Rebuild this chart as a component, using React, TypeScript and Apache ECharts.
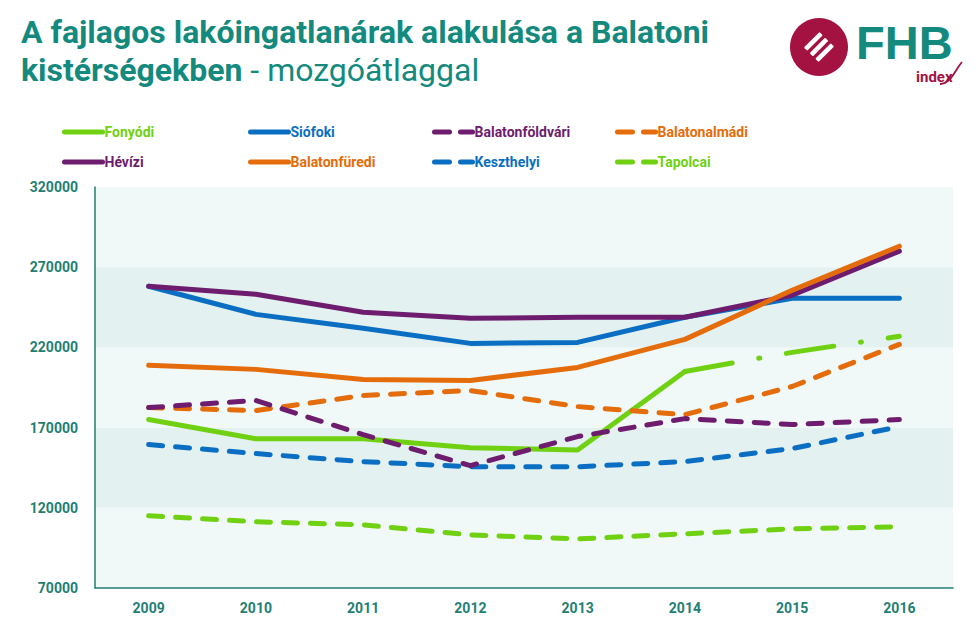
import React, { useEffect, useRef } from "react";
import * as echarts from "echarts";

const years = ["2009", "2010", "2011", "2012", "2013", "2014", "2015", "2016"];
const yTicks = { min: 70000, max: 320000, step: 50000 };

const fonyodi = [175000, 163000, 163000, 157500, 156000, 205000, null, null];
const fonyodiBecsles = [null, null, null, null, null, 205000, 216900, 226900];
const siofoki = [258100, 240600, 231900, 222500, 223100, 238800, 250600, 250600];
const balatonfoldvari = [182500, 186900, 165600, 146300, 164400, 175600, 171900, 175000];
const balatonalmadi = [182500, 180600, 190000, 193100, 183100, 178100, 195600, 221900];
const hevizi = [258100, 253100, 241900, 238100, 238800, 238800, 252500, 280000];
const balatonfuredi = [208800, 206300, 200000, 199400, 207500, 225000, 255600, 283100];
const keszthelyi = [159400, 153800, 148800, 145600, 145600, 148800, 156900, 170600];
const tapolcai = [115000, 111300, 109400, 103100, 100600, 103800, 106900, 108100];

const TEAL = "#138a7d";
const AXIS_TEAL = "#1f7f74";
const GREEN = "#6fd112";
const BLUE = "#0a6fc2";
const PURPLE = "#6e1c6e";
const ORANGE = "#e46c0a";
const RED = "#a31241";
const FONT = "Roboto, 'Liberation Sans', sans-serif";

const DASH = [14, 13];

type Item = { name: string; data: (number | null)[]; color: string; dashed: boolean };

const items: Item[] = [
  { name: "Fonyódi", data: fonyodi, color: GREEN, dashed: false },
  { name: "Siófoki", data: siofoki, color: BLUE, dashed: false },
  { name: "Balatonföldvári", data: balatonfoldvari, color: PURPLE, dashed: true },
  { name: "Balatonalmádi", data: balatonalmadi, color: ORANGE, dashed: true },
  { name: "Hévízi", data: hevizi, color: PURPLE, dashed: false },
  { name: "Balatonfüredi", data: balatonfuredi, color: ORANGE, dashed: false },
  { name: "Keszthelyi", data: keszthelyi, color: BLUE, dashed: true },
  { name: "Tapolcai", data: tapolcai, color: GREEN, dashed: true },
];

const drawOrder = [
  "Fonyódi",
  "Siófoki",
  "Hévízi",
  "Balatonfüredi",
  "Tapolcai",
  "Keszthelyi",
  "Balatonalmádi",
  "Balatonföldvári",
];

const legendCols = [57, 243, 427, 610];
const legendRows = [120, 150];

export default function App() {
  const ref = useRef<HTMLDivElement>(null);

  useEffect(() => {
    if (!ref.current) return;
    const chart = echarts.init(ref.current, null, { renderer: "svg" });

    const mkSeries = (it: Item) => ({
      type: "line",
      name: it.name,
      data: it.data,
      symbol: "none",
      smooth: false,
      lineStyle: {
        color: it.color,
        width: 5,
        type: it.dashed ? DASH : "solid",
        cap: "round",
        join: "round",
      },
      itemStyle: { color: it.color },
    });

    const series: any[] = [];
    drawOrder.forEach((n) => {
      const it = items.find((i) => i.name === n)!;
      series.push(mkSeries(it));
      if (n === "Fonyódi") {
        series.push({
          type: "line",
          name: "Fonyódi (becslés)",
          data: fonyodiBecsles,
          symbol: "none",
          lineStyle: { color: GREEN, width: 5, type: [48, 27, 1, 27], cap: "round" },
          itemStyle: { color: GREEN },
        });
      }
    });

    const legends = items.map((it, i) => ({
      data: [{ name: it.name, textStyle: { color: it.color } }],
      left: legendCols[i % 4],
      top: legendRows[Math.floor(i / 4)],
      itemWidth: 38,
      itemHeight: 14,
      itemGap: 2,
      selectedMode: false,
      itemStyle: { opacity: 0 },
      lineStyle: {
        color: it.color,
        width: 5,
        cap: "round",
        type: it.dashed ? [15, 11] : "solid",
      },
      textStyle: { fontFamily: FONT, fontWeight: "bold", fontSize: 14, padding: [0, 0, 0, -3] },
    }));

    chart.setOption({
      animation: false,
      backgroundColor: "#ffffff",
      title: {
        left: 16,
        top: 8,
        text: "{b|A fajlagos lakóingatlanárak alakulása a Balatoni}\n{b|kistérségekben}{r| - mozgóátlaggal}",
        textStyle: {
          rich: {
            b: { fontFamily: FONT, fontWeight: "bold", fontSize: 32, color: TEAL, lineHeight: 38 },
            r: { fontFamily: FONT, fontWeight: "normal", fontSize: 32, color: TEAL, lineHeight: 38 },
          },
        },
      },
      legend: legends,
      grid: { left: 95, right: 26, top: 187, bottom: 52, containLabel: false },
      xAxis: {
        type: "category",
        data: years,
        boundaryGap: true,
        axisLine: { lineStyle: { color: AXIS_TEAL, width: 1.5 } },
        axisTick: { show: false },
        axisLabel: {
          color: AXIS_TEAL,
          fontFamily: FONT,
          fontWeight: "bold",
          fontSize: 14,
          margin: 13,
        },
        splitLine: { show: false },
      },
      yAxis: {
        type: "value",
        min: yTicks.min,
        max: yTicks.max,
        interval: yTicks.step,
        axisLine: { show: true, lineStyle: { color: AXIS_TEAL, width: 1.5 } },
        axisTick: { show: false },
        axisLabel: {
          color: AXIS_TEAL,
          fontFamily: FONT,
          fontWeight: "bold",
          fontSize: 14,
          margin: 17,
          formatter: (v: number) => String(v),
        },
        splitLine: { show: false },
        splitArea: { show: true, areaStyle: { color: ["#f0f8f8", "#e3f1f1"] } },
      },
      graphic: [
        { type: "circle", shape: { cx: 819, cy: 47, r: 29 }, style: { fill: RED } },
        {
          type: "group",
          x: 819,
          y: 47,
          rotation: Math.PI / 4,
          children: [-8, 0, 8].map((dy) => ({
            type: "rect",
            shape: { x: -11, y: dy - 2.3, width: 22, height: 4.6, r: 1 },
            style: { fill: "#ffffff" },
          })),
        },
        {
          type: "text",
          x: 856,
          y: 19,
          style: {
            text: "FHB",
            fill: TEAL,
            font: "bold 47px 'Liberation Sans', Arial, sans-serif",
          },
        },
        {
          type: "text",
          x: 916,
          y: 69,
          style: {
            text: "index",
            fill: RED,
            font: "bold 15px " + FONT,
          },
        },
        {
          type: "bezierCurve",
          shape: { x1: 940, y1: 84, x2: 962, y2: 62, cpx1: 951, cpy1: 84, cpx2: 955, cpy2: 70 },
          style: { stroke: RED, lineWidth: 1.8, fill: "none" },
        },
      ],
      series,
    });

    return () => chart.dispose();
  }, []);

  return (
    <div
      ref={ref}
      style={{ position: "fixed", left: 0, top: 0, width: 979, height: 640 }}
    />
  );
}
